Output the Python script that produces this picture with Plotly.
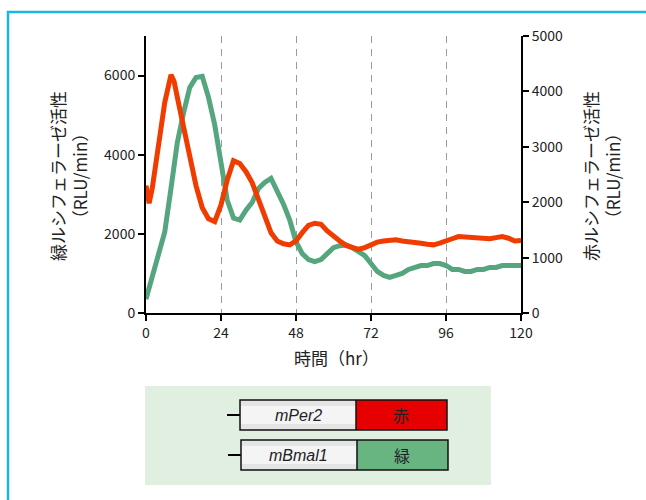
import plotly.graph_objects as go

# ---- data ----
hours_green = list(range(0, 121, 2))
green_rlu = [350, 950, 1450, 2050, 3150, 4300, 5050, 5700, 5950, 5980,
             5450, 4750, 3800, 2850, 2400, 2350, 2600, 2800, 3150, 3300,
             3400, 3100, 2750, 2350, 1800, 1500, 1350, 1300, 1350, 1500,
             1650, 1700, 1720, 1650, 1550, 1450, 1250, 1050, 950, 900,
             950, 1000, 1100, 1150, 1200, 1200, 1250, 1250, 1200, 1100,
             1100, 1050, 1050, 1100, 1100, 1150, 1150, 1200, 1200, 1200, 1200]

hours_red = [0, 1, 2, 4, 6, 8, 9, 10, 12, 14, 16, 18, 20, 22, 24, 26, 28, 30,
             32, 34, 36, 38, 40, 42, 44, 46, 48, 50, 52, 54, 56, 58, 60, 62,
             64, 66, 68, 70, 72, 74, 76, 78, 80, 82, 84, 86, 88, 90, 92, 94,
             96, 98, 100, 102, 104, 106, 108, 110, 112, 114, 116, 118, 120]
red_rlu = [2300, 1980, 2250, 3100, 3800, 4300, 4180, 3900, 3350, 2750, 2300,
           1900, 1700, 1650, 1950, 2400, 2750, 2700, 2550, 2350, 2050, 1750,
           1450, 1300, 1250, 1230, 1300, 1450, 1580, 1620, 1600, 1480, 1380,
           1300, 1220, 1180, 1150, 1180, 1230, 1280, 1300, 1320, 1320, 1300,
           1290, 1290, 1260, 1240, 1230, 1260, 1290, 1340, 1380, 1370, 1350,
           1360, 1350, 1340, 1360, 1380, 1350, 1300, 1310]

x_ticks = [0, 24, 48, 72, 96, 120]
left_ticks = [0, 2000, 4000, 6000]
right_ticks = [0, 1000, 2000, 3000, 4000, 5000]

GREEN = "#55A67E"
RED = "#F03C00"
FONT = "Noto Sans CJK JP"

fig = go.Figure()
fig.add_trace(go.Scatter(x=hours_green, y=green_rlu, mode="lines",
                         line=dict(color=GREEN, width=5), yaxis="y",
                         showlegend=False, hoverinfo="skip"))
fig.add_trace(go.Scatter(x=hours_red, y=red_rlu, mode="lines",
                         line=dict(color=RED, width=5), yaxis="y2",
                         showlegend=False, hoverinfo="skip"))

L, R, T, B = 146, 521, 36, 313
W, H = 646, 500


def px(x):
    return (x - L) / (R - L)


def py(y):
    return (B - y) / (B - T)


axis_common = dict(showline=True, linecolor="black", linewidth=2,
                   ticks="outside", ticklen=6, tickwidth=2, tickcolor="black",
                   zeroline=False,
                   tickfont=dict(family=FONT, size=14, color="#222"))

fig.update_layout(
    width=W, height=H,
    margin=dict(l=L, r=W - R, t=T, b=H - B),
    paper_bgcolor="white", plot_bgcolor="white",
    font=dict(family=FONT),
    xaxis=dict(range=[0, 120], tickvals=x_ticks, showgrid=True,
               gridcolor="#9a9a9a", gridwidth=1, griddash="7px,6px",
               **axis_common),
    yaxis=dict(range=[0, 7000], tickvals=left_ticks, showgrid=False,
               **axis_common),
    yaxis2=dict(range=[0, 5000], tickvals=right_ticks, showgrid=False,
                overlaying="y", side="right", **axis_common),
)

annotations = [
    dict(text="緑ルシフェラーゼ活性<br>（RLU/min）", x=px(68), y=py(176),
         textangle=-90, font=dict(family=FONT, size=17, color="#222")),
    dict(text="赤ルシフェラーゼ活性<br>（RLU/min）", x=px(601), y=py(176),
         textangle=-90, font=dict(family=FONT, size=17, color="#222")),
    dict(text="時間（hr）", x=px(336), y=py(357),
         font=dict(family=FONT, size=17, color="#222")),
    dict(text="<i>mPer2</i>", x=px(298), y=py(415),
         font=dict(family="Liberation Sans", size=16, color="#222")),
    dict(text="赤", x=px(401), y=py(415),
         font=dict(family=FONT, size=16, color="#222")),
    dict(text="<i>mBmal1</i>", x=px(298), y=py(455),
         font=dict(family="Liberation Sans", size=16, color="#222")),
    dict(text="緑", x=px(402), y=py(455),
         font=dict(family=FONT, size=16, color="#222")),
]
for a in annotations:
    a.update(xref="paper", yref="paper", showarrow=False,
             xanchor="center", yanchor="middle")
fig.update_layout(annotations=annotations)


def rect(x0, y0, x1, y1, fill=None, line_color=None, lw=0):
    return dict(type="rect", xref="paper", yref="paper",
                x0=px(x0), x1=px(x1), y0=py(y1), y1=py(y0),
                fillcolor=fill if fill else "rgba(0,0,0,0)",
                line=dict(color=line_color if line_color else "rgba(0,0,0,0)",
                          width=lw), layer="above")


def hline(x0, x1, y, color="black", lw=2):
    return dict(type="line", xref="paper", yref="paper",
                x0=px(x0), x1=px(x1), y0=py(y), y1=py(y),
                line=dict(color=color, width=lw), layer="above")


def vline(x, y0, y1, color="#111", lw=1.5):
    return dict(type="line", xref="paper", yref="paper",
                x0=px(x), x1=px(x), y0=py(y0), y1=py(y1),
                line=dict(color=color, width=lw), layer="above")


shapes = [
    # outer cyan frame
    rect(8, 12, 700, 560, line_color="#1AB4E8", lw=2.5),
    # legend panel
    rect(145, 386, 491, 485, fill="#E1EFE0"),
    # row 1
    hline(227, 240, 415),
    rect(240, 400, 356, 430, fill="#E4E4E4"),
    rect(240, 406, 356, 424, fill="#F4F4F4"),
    rect(356, 400, 447, 430, fill="#E60000"),
    rect(240, 400, 447, 430, line_color="#111", lw=1.5),
    vline(356, 400, 430),
    # row 2
    hline(228, 241, 455),
    rect(241, 440, 357, 470, fill="#E4E4E4"),
    rect(241, 446, 357, 464, fill="#F4F4F4"),
    rect(357, 440, 448, 470, fill="#68B582"),
    rect(241, 440, 448, 470, line_color="#111", lw=1.5),
    vline(357, 440, 470),
]
fig.update_layout(shapes=shapes)

fig.write_html(
    "out.html",
    config={"displayModeBar": False},
    post_script="document.body.style.margin='0';"
                "document.body.style.overflow='hidden';"
                "document.documentElement.style.overflow='hidden';",
)
